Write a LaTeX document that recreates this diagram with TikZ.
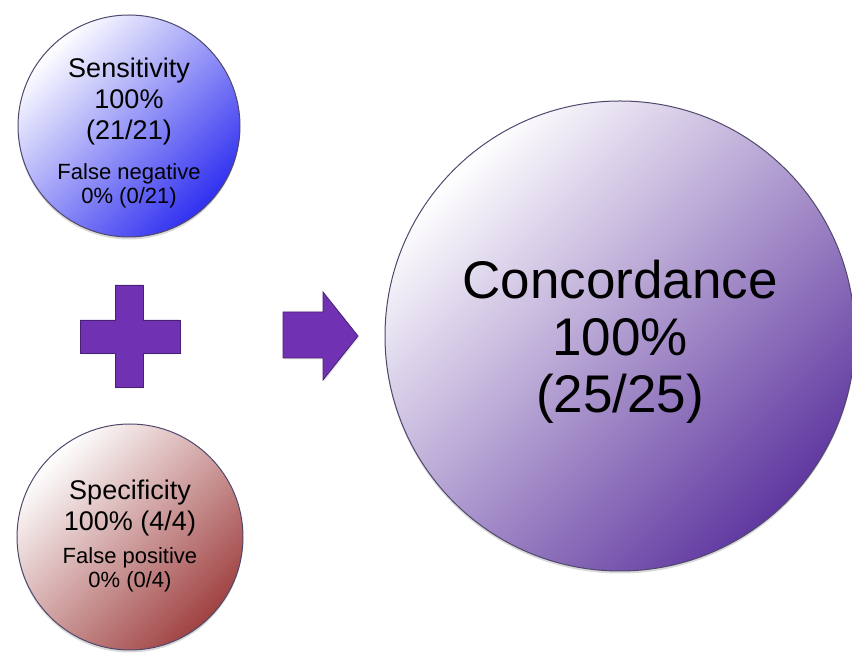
\documentclass[tikz,border=0pt]{standalone}
\usepackage{fontspec}
\setmainfont{Liberation Sans}
\usetikzlibrary{positioning,shapes,shadows}
\definecolor{sensblue}{RGB}{48,48,240}
\definecolor{specred}{RGB}{160,66,66}
\definecolor{concpurple}{RGB}{96,56,160}
\definecolor{signpurple}{RGB}{112,50,178}
\definecolor{rimgray}{RGB}{80,72,108}
\tikzstyle{bubble} = [circle, draw=rimgray, line width=1pt, inner sep=0pt, drop shadow={shadow xshift=0pt, shadow yshift=-2.5pt, opacity=0.3}]
\tikzstyle{caption} = [inner sep=0pt, text centered]
\tikzstyle{sign} = [fill=signpurple, draw=signpurple!65!black, line width=0.8pt, line join=miter, drop shadow={shadow xshift=1pt, shadow yshift=-1.5pt, opacity=0.2}]
\newcommand{\bubbletext}[2]{\parbox[c]{#1}{\centering #2}}
\newcommand{\mainsize}{\fontsize{27}{31}\selectfont}
\newcommand{\notesize}{\fontsize{22}{24}\selectfont}

\begin{document}
\begin{tikzpicture}[x=1pt, y=1pt]
\useasboundingbox (0,0) rectangle (852,656);
% Input Circles
	%	Sensitivity
    \node [bubble, minimum size=222pt, top color=white, middle color=sensblue!42, bottom color=sensblue, shading angle=45] (sens) at (129,530) {};
    \node [caption] (senstext) at ([yshift=-7.5pt]sens.center)
      {\bubbletext{200pt}{\mainsize Sensitivity\\100\%\\(21/21)\par\vspace{16pt}\notesize False negative\\0\% (0/21)}};
    %	Specificity
    \node [bubble, minimum size=226pt, top color=white, middle color=specred!30, bottom color=specred, shading angle=45] (spec) at (130,119) {};
    \node [caption] (spectext) at ([yshift=1pt]spec.center)
      {\bubbletext{200pt}{\mainsize Specificity\\100\% (4/4)\par\vspace{9pt}\notesize False positive\\0\% (0/4)}};
% Result Circle
    \node [bubble, minimum size=470pt, top color=white, middle color=concpurple!35, bottom color=concpurple, shading angle=45] (conc) at (620,320) {};
    \node [caption] (conctext) at ([yshift=-6pt]conc.center)
      {\bubbletext{420pt}{\fontsize{53}{57}\selectfont Concordance\\100\%\\(25/25)}};
% Signs
    \draw [sign] (115,371) -- (143,371) -- (143,336) -- (180,336) -- (180,303) -- (143,303)
      -- (143,269) -- (115,269) -- (115,303) -- (80,303) -- (80,336) -- (115,336) -- cycle;
    \draw [sign] (283,344) -- (323,344) -- (323,364) -- (358,320) -- (323,276) -- (323,298) -- (283,298) -- cycle;
\end{tikzpicture}
\end{document}
